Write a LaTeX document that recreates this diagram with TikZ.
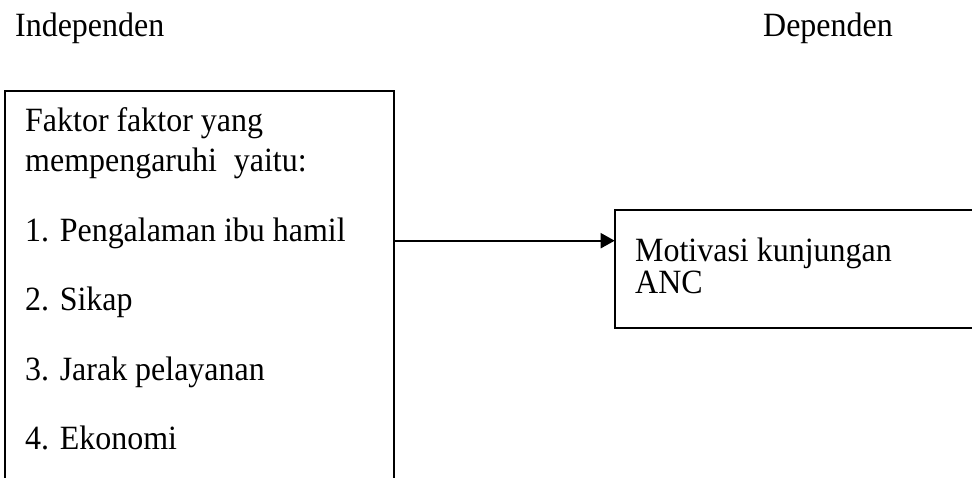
\documentclass[tikz,border=0pt]{standalone}
\usepackage{fontspec}
\setmainfont{Liberation Serif}[FakeStretch=0.94]
\usetikzlibrary{arrows.meta}
\begin{document}
\begin{tikzpicture}[x=1pt,y=-1pt,
  boxstyle/.style={draw=black,line width=2pt,inner sep=0pt,outer sep=0pt,anchor=north west},
  txt/.style={anchor=base west,inner sep=0pt,font=\fontsize{34}{40}\selectfont,text=black},
  conn/.style={line width=2pt,-{Triangle[length=14pt,width=15pt]}}]
\useasboundingbox (0,0) rectangle (972,477);
\clip (0,0) rectangle (972,477);
\fill[white] (0,0) rectangle (972,477);
\node[boxstyle,minimum width=389pt,minimum height=420pt] (left) at (5,91) {};
\node[boxstyle,minimum width=380pt,minimum height=118pt] (right) at (614.7,210) {};
\node[txt] (indep) at (15,36) {Independen};
\node[txt] (dep) at (763,36) {Dependen};
\node[txt] (t1) at (25,131.7) {Faktor faktor yang};
\node[txt] (t2) at (25,171.7) {mempengaruhi\hspace{0.5em}yaitu:};
\node[txt] (t3) at (25,241.7) {1. Pengalaman ibu hamil};
\node[txt] (t4) at (25,310.7) {2. Sikap};
\node[txt] (t5) at (25,380) {3. Jarak pelayanan};
\node[txt] (t6) at (25,449) {4. Ekonomi};
\node[txt] (r1) at (635,261.7) {Motivasi kunjungan};
\node[txt] (r2) at (635,293) {ANC};
\coordinate (ay) at (0,240.7);
\draw[conn] (left.east |- ay) -- (right.west |- ay);
\end{tikzpicture}
\end{document}
